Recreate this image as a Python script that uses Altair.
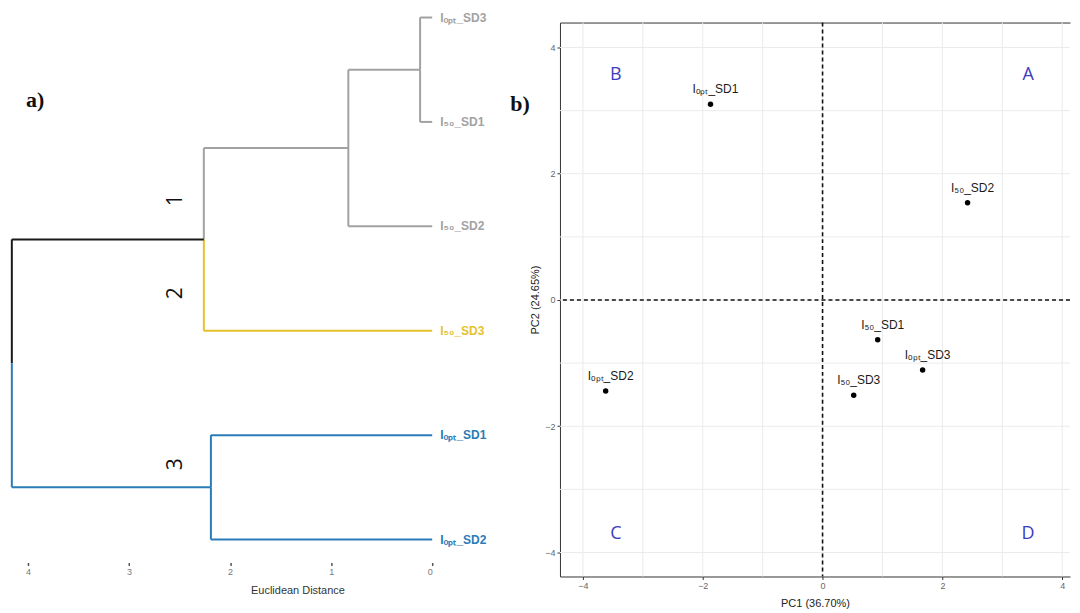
import altair as alt
import pandas as pd

# ---------------- data: dendrogram ----------------
leaf_labels = ["Iₒₚₜ_SD3", "I₅₀_SD1", "I₅₀_SD2", "I₅₀_SD3", "Iₒₚₜ_SD1", "Iₒₚₜ_SD2"]
leaf_cluster = [1, 1, 1, 2, 3, 3]
merge_left = [0, 6, 7, 4, 8]
merge_right = [1, 2, 3, 5, 9]
merge_height = [0.12, 0.83, 2.26, 2.19, 4.16]
cluster_colors = {0: "#1a1a1a", 1: "#A2A2A2", 2: "#E6C12F", 3: "#2B7BB9"}
group_names = ["1", "2", "3"]
group_pos = [1.75, 2.64, 4.28]
group_dist = [2.54, 2.54, 2.54]
dist_ticks = [0, 1, 2, 3, 4]

# ---------------- data: PCA ----------------
pc_labels = ["Iₒₚₜ_SD1", "I₅₀_SD2", "I₅₀_SD1", "Iₒₚₜ_SD3", "I₅₀_SD3", "Iₒₚₜ_SD2"]
pc1 = [-1.87, 2.42, 0.92, 1.67, 0.52, -3.62]
pc2 = [3.10, 1.54, -0.63, -1.11, -1.51, -1.44]
quad_names = ["A", "B", "C", "D"]
quad_x = [3.43, -3.45, -3.45, 3.43]
quad_y = [3.56, 3.56, -3.71, -3.71]
grid_vals = [-4, -3, -2, -1, 0, 1, 2, 3, 4]
major_ticks = [-4, -2, 0, 2, 4]

# ---------------- build dendrogram segments ----------------
n = len(leaf_labels)
node_y = {i: float(i) for i in range(n)}
node_h = {i: 0.0 for i in range(n)}
node_cl = {i: {leaf_cluster[i]} for i in range(n)}
segs = []
for k, (a, b, h) in enumerate(zip(merge_left, merge_right, merge_height)):
    nid = n + k
    node_y[nid] = (node_y[a] + node_y[b]) / 2
    node_h[nid] = h
    node_cl[nid] = node_cl[a] | node_cl[b]
    for c in (a, b):
        col = cluster_colors[list(node_cl[c])[0]] if len(node_cl[c]) == 1 else cluster_colors[0]
        segs.append(dict(x=h, x2=h, y=node_y[nid], y2=node_y[c], col=col))
        segs.append(dict(x=h, x2=node_h[c], y=node_y[c], y2=node_y[c], col=col))
seg_df = pd.DataFrame(segs)
leaf_df = pd.DataFrame(dict(label=leaf_labels, pos=list(range(n)), d=[0] * n,
                            col=[cluster_colors[c] for c in leaf_cluster]))
grp_df = pd.DataFrame(dict(name=group_names, pos=group_pos, d=group_dist))
panel_a = pd.DataFrame(dict(t=["a)"], d=[3.93], pos=[0.79]))

xs = alt.Scale(domain=[0, 4.188], reverse=True, nice=False, zero=False)
ys = alt.Scale(domain=[0.048, 5.354], reverse=True, nice=False, zero=False)

dend_lines = alt.Chart(seg_df).mark_rule(strokeWidth=2).encode(
    x=alt.X("x:Q", scale=xs, title="Euclidean Distance",
            axis=alt.Axis(values=dist_ticks, format="d", domain=False, grid=False,
                          tickSize=3, tickColor="#555", tickWidth=1.5,
                          labelFontSize=9, labelColor="#777", offset=-14,
                          titleFontSize=11, titleFontWeight="normal", titleColor="#333",
                          titleX=289, titlePadding=8)),
    x2="x2:Q",
    y=alt.Y("y:Q", scale=ys, axis=None),
    y2="y2:Q",
    color=alt.Color("col:N", scale=None),
)
dend_leaf = alt.Chart(leaf_df).mark_text(align="left", dx=8, fontWeight="bold",
                                          fontSize=12, font="Liberation Sans").encode(
    x=alt.X("d:Q", scale=xs), y=alt.Y("pos:Q", scale=ys),
    text="label:N", color=alt.Color("col:N", scale=None))
dend_grp = alt.Chart(grp_df).mark_text(angle=270, fontSize=21, font="Open Sans",
                                        color="#111").encode(
    x=alt.X("d:Q", scale=xs), y=alt.Y("pos:Q", scale=ys), text="name:N")
dend_a = alt.Chart(panel_a).mark_text(fontSize=22, fontWeight="bold", font="Liberation Serif",
                                       color="#111").encode(
    x=alt.X("d:Q", scale=xs), y=alt.Y("pos:Q", scale=ys), text="t:N")

dend = alt.layer(dend_lines, dend_leaf, dend_grp, dend_a).properties(
    width=424, height=555, view=alt.ViewBackground(stroke="transparent"))

# ---------------- PCA ----------------
px = alt.Scale(domain=[-4.383, 4.13], nice=False, zero=False)
py = alt.Scale(domain=[-4.38, 4.395], nice=False, zero=False)
pts_df = pd.DataFrame(dict(label=pc_labels, pc1=pc1, pc2=pc2))
quad_df = pd.DataFrame(dict(q=quad_names, x=quad_x, y=quad_y))
grid_df = pd.DataFrame(dict(g=grid_vals))
zero_df = pd.DataFrame(dict(z=[0]))
panel_b = pd.DataFrame(dict(t=["b)"], x=[-5.05], y=[3.11]))

gx = alt.Chart(grid_df).mark_rule(color="#EBEBEB", strokeWidth=1).encode(
    x=alt.X("g:Q", scale=px, title="PC1 (36.70%)",
            axis=alt.Axis(values=major_ticks, format="d", domain=True, domainColor="#333",
                          domainWidth=1, grid=False,
                          tickSize=3, tickColor="#333", labelFontSize=9, labelColor="#666",
                          titleFontSize=11, titleFontWeight="normal", titleColor="#222",
                          titlePadding=7)))
gy = alt.Chart(grid_df).mark_rule(color="#EBEBEB", strokeWidth=1).encode(
    y=alt.Y("g:Q", scale=py, title="PC2 (24.65%)",
            axis=alt.Axis(values=major_ticks, format="d", domain=True, domainColor="#333",
                          domainWidth=1, grid=False,
                          tickSize=3, tickColor="#333", labelFontSize=9, labelColor="#666",
                          titleFontSize=11, titleFontWeight="normal", titleColor="#222",
                          titlePadding=4)))
zx = alt.Chart(zero_df).mark_rule(color="#111", strokeWidth=1.6, strokeDash=[4, 3]).encode(
    x=alt.X("z:Q", scale=px, title=None,
            axis=alt.Axis(orient="top", labels=False, ticks=False, grid=False,
                          domain=True, domainColor="#333", domainWidth=1)))
zy = alt.Chart(zero_df).mark_rule(color="#111", strokeWidth=1.6, strokeDash=[4, 3]).encode(
    y=alt.Y("z:Q", scale=py))
pts = alt.Chart(pts_df).mark_circle(size=30, color="#000", opacity=1).encode(
    x=alt.X("pc1:Q", scale=px, axis=None), y=alt.Y("pc2:Q", scale=py))
lbl = alt.Chart(pts_df).mark_text(dx=5, dy=-15, fontSize=12, font="Liberation Sans",
                                   color="#1a1a1a").encode(
    x=alt.X("pc1:Q", scale=px, axis=None), y=alt.Y("pc2:Q", scale=py), text="label:N")
quad = alt.Chart(quad_df).mark_text(fontSize=18, font="Open Sans", color="#3C3CC0").encode(
    x=alt.X("x:Q", scale=px, axis=None), y=alt.Y("y:Q", scale=py), text="q:N")
bl = alt.Chart(panel_b).mark_text(fontSize=22, fontWeight="bold", font="Liberation Serif",
                                   color="#111").encode(
    x=alt.X("x:Q", scale=px, axis=None), y=alt.Y("y:Q", scale=py), text="t:N")

pca = alt.layer(gx, gy, zx, zy, pts, lbl, quad, bl).resolve_axis(x="independent").properties(
    width=511, height=555, view=alt.ViewBackground(stroke="transparent"))

chart = alt.hconcat(dend, pca, spacing=128, bounds="flush").properties(
    padding={"left": 0, "top": 2, "right": 0, "bottom": 0}
).configure(font="Liberation Sans")

chart.save("out.html", embed_options={"renderer": "svg", "actions": False})
